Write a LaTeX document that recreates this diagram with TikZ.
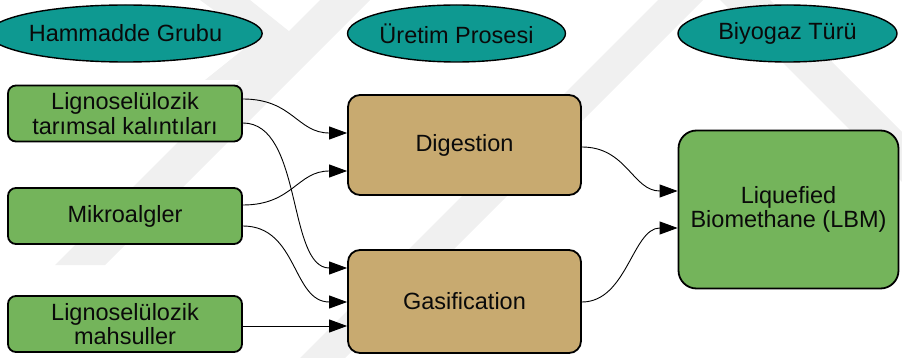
\documentclass[tikz,border=0pt]{standalone}
\usepackage{fontspec}
\setmainfont{Liberation Sans}
\usetikzlibrary{arrows.meta,shapes.geometric}

\definecolor{hdrteal}{RGB}{14,153,145}
\definecolor{boxgreen}{RGB}{116,180,91}
\definecolor{boxtan}{RGB}{200,170,112}
\definecolor{txt}{RGB}{10,10,10}
\definecolor{wmark}{RGB}{240,240,240}

\tikzset{
  label font/.style={font=\fontsize{23.5}{24.5}\selectfont, text=txt, align=center},
  header/.style={ellipse, draw=black, line width=1.4pt, fill=hdrteal,
    minimum height=57pt, inner sep=0pt, label font},
  feedbox/.style={rectangle, rounded corners=8pt, draw=black, line width=1.8pt,
    fill=boxgreen, minimum width=234pt, minimum height=56pt, inner sep=0pt, label font},
  procbox/.style={rectangle, rounded corners=12pt, draw=black, line width=1.8pt,
    fill=boxtan, minimum width=233pt, inner sep=0pt, label font},
  prodbox/.style={rectangle, rounded corners=18pt, draw=black, line width=1.8pt,
    fill=boxgreen, inner sep=0pt, label font},
  conn/.style={draw=black, line width=0.9pt, -{Triangle[length=18pt,width=13pt]}},
  wband/.style={fill=wmark, draw=none},
}

\begin{document}
\begin{tikzpicture}[x=1pt,y=-1pt]
\useasboundingbox (0,0) rectangle (902,358);

% faint background emblem
\fill[wband] (55,265) -- (105,265) -- (370,0) -- (320,0) -- cycle;
\fill[wband] (300,358) -- (345,358) -- (703,0) -- (658,0) -- cycle;
\fill[wband] (200,0) -- (250,0) -- (300,40) -- (245,80) -- (205,80) -- (255,40) -- cycle;
\fill[wband] (720,0) -- (770,0) -- (902,132) -- (902,182) -- cycle;

% column headers
\node[header, minimum width=235pt] (h1) at (125.5,33.5) {Hammadde Grubu};
\node[header, minimum width=217pt] (h2) at (456.5,33.5) {Üretim Prosesi};
\node[header, minimum width=219pt] (h3) at (787.5,33.5) {Biyogaz Türü};

% feedstock groups
\node[feedbox] (g1) at (125,113.5) {Lignoselülozik\\tarımsal kalıntıları};
\node[feedbox] (g2) at (125,216) {Mikroalgler};
\node[feedbox] (g3) at (125,324) {Lignoselülozik\\mahsuller};

% production processes
\node[procbox, minimum height=100pt] (dig) at (464.5,145) {Digestion};
\node[procbox, minimum height=103pt] (gas) at (464.5,301.5) {Gasification};

% product
\node[prodbox, minimum width=220pt, minimum height=158pt] (lbm) at (788.5,209.5)
  {Liquefied\\Biomethane (LBM)};

% connectors
\draw[conn] ([yshift=14.5pt]g1.east) .. controls +(50,0) and +(-50,0) .. ([yshift=12pt]dig.west);
\draw[conn] ([yshift=-9.5pt]g1.east) .. controls +(60,0) and +(-60,0) .. ([yshift=33.5pt]gas.west);
\draw[conn] ([yshift=11pt]g2.east) .. controls +(50,0) and +(-50,0) .. ([yshift=-26pt]dig.west);
\draw[conn] ([yshift=-10pt]g2.east) .. controls +(55,0) and +(-55,0) .. ([yshift=-0.5pt]gas.west);
\draw[conn] ([yshift=-2pt]g3.east) -- ([yshift=-24.5pt]gas.west);
\draw[conn] ([yshift=-2pt]dig.east) .. controls +(45,0) and +(-45,0) .. ([yshift=18.5pt]lbm.west);
\draw[conn] ([yshift=-0.5pt]gas.east) .. controls +(45,0) and +(-45,0) .. ([yshift=-18.5pt]lbm.west);
\end{tikzpicture}
\end{document}
